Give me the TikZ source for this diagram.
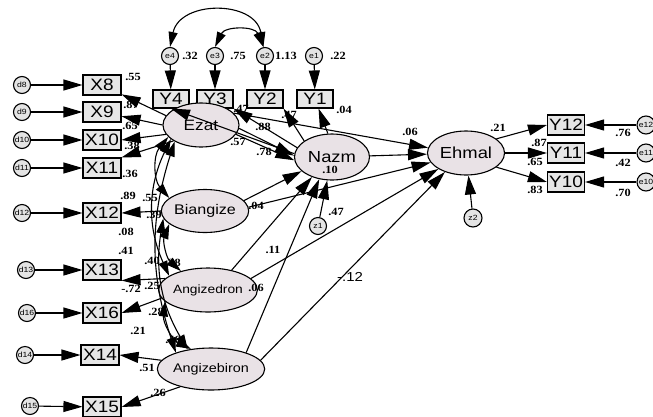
\documentclass[tikz,border=0pt]{standalone}
\usepackage{fontspec}
\usetikzlibrary{arrows.meta,shapes.geometric}
\newfontfamily\sansst[FakeStretch=1.15]{Liberation Sans}
\newfontfamily\serifst[FakeStretch=1.12]{Liberation Serif}
\definecolor{latfill}{HTML}{E9E2E6}
\definecolor{boxfill}{HTML}{E6E6E6}
\definecolor{errfill}{HTML}{E4E4E4}
\tikzset{
  obs/.style={draw, line width=1.1pt, fill=boxfill, minimum width=38pt, minimum height=20pt, inner sep=0pt, font=\sansst\fontsize{16.5}{16.5}\selectfont},
  obsy/.style={obs, minimum width=36pt, minimum height=18pt},
  lat/.style={draw, line width=1.1pt, ellipse, fill=latfill, inner sep=0pt},
  err/.style={draw, line width=1.1pt, circle, fill=errfill, minimum size=17pt, inner sep=0pt, font=\sansst\fontsize{7.5}{7.5}\selectfont},
  lbl/.style={inner sep=0pt, font=\serifst\bfseries\fontsize{11}{11}\selectfont},
  arr/.style={line width=1.1pt, -{Triangle[length=19pt,width=11pt]}},
  cov/.style={line width=1.1pt, {Triangle[length=15pt,width=9pt]}-{Triangle[length=15pt,width=9pt]}},
}
\begin{document}
\begin{tikzpicture}[x=1pt,y=-1pt]
\useasboundingbox (0,0) rectangle (653,416);
% observed X boxes
\node[obs] (X8)  at (102,85)  {X8};
\node[obs] (X9)  at (102,112) {X9};
\node[obs] (X10) at (102,140) {X10};
\node[obs] (X11) at (102,168) {X11};
\node[obs] (X12) at (102,213) {X12};
\node[obs] (X13) at (102,270) {X13};
\node[obs] (X16) at (102,313) {X16};
\node[obs] (X14) at (100,355) {X14};
\node[obs] (X15) at (102,407) {X15};
% d circles
\node[err] (d8)  at (22,85)  {d8};
\node[err] (d9)  at (22,112) {d9};
\node[err] (d10) at (22,140) {d10};
\node[err] (d11) at (22,168) {d11};
\node[err] (d12) at (22,213) {d12};
\node[err] (d13) at (26,270) {d13};
\node[err] (d16) at (27,313) {d16};
\node[err] (d14) at (25,355) {d14};
\node[err] (d15) at (30,406) {d15};
% Y boxes
\node[obsy] (Y4) at (171,99) {Y4};
\node[obsy] (Y3) at (215,99) {Y3};
\node[obsy] (Y2) at (265,99) {Y2};
\node[obsy] (Y1) at (315,99) {Y1};
\node[err] (e4) at (170,56) {e4};
\node[err] (e3) at (215,56) {e3};
\node[err] (e2) at (265,56) {e2};
\node[err] (e1) at (314,56) {e1};
% right boxes
\node[obs, minimum width=37pt] (Y12) at (566,125) {Y12};
\node[obs, minimum width=37pt] (Y11) at (566,153) {Y11};
\node[obs, minimum width=37pt] (Y10) at (566,182) {Y10};
\node[err, minimum size=18pt] (e12) at (646,125) {e12};
\node[err, minimum size=18pt] (e11) at (646,153) {e11};
\node[err, minimum size=18pt] (e10) at (646,182) {e10};
% latent
\node[lat, minimum width=76pt, minimum height=44pt, font=\sansst\fontsize{15}{15}\selectfont] (ezat) at (201,125) {\raisebox{-3pt}{Ezat}};
\node[lat, minimum width=75pt, minimum height=46pt, font=\sansst\fontsize{16}{16}\selectfont] (nazm) at (332,157) {Nazm};
\node[lat, minimum width=77pt, minimum height=44pt, font=\sansst\fontsize{16}{16}\selectfont] (ehmal) at (466,153) {Ehmal};
\node[lat, minimum width=72pt, minimum height=43pt, font=\sansst\fontsize{14}{14}\selectfont] (bian) at (205,211) {Biangize};
\node[lat, minimum width=77pt, minimum height=44pt, font=\sansst\fontsize{12}{12}\selectfont] (adron) at (208,290) {Angizedron};
\node[lat, minimum width=78pt, minimum height=42pt, font=\sansst\fontsize{12.5}{12.5}\selectfont] (abiron) at (211,369) {Angizebiron};
\node[err] (z1) at (318,226) {z1};
\node[err, minimum size=18pt] (z2) at (473,218) {z2};
% error arrows
\foreach \a/\b in {d8/X8,d9/X9,d10/X10,d11/X11,d12/X12,d13/X13,d16/X16,d14/X14,d15/X15,e4/Y4,e3/Y3,e2/Y2,e1/Y1,e12/Y12,e11/Y11,e10/Y10,z1/nazm,z2/ehmal}
  \draw[arr] (\a) -- (\b);
% error covariances
\draw[cov] (e4.north) .. controls (180,0) and (255,0) .. (e2.100);
\draw[cov] (e3.north) .. controls (225,26) and (255,26) .. (e2.100);
% loadings
\draw[arr] (ezat.165) -- (X8);
\draw[arr] (ezat.180) -- (X9);
\draw[arr] (ezat.195) -- (X10.east);
\draw[arr] (ezat.210) -- (X11.north east);
\draw[arr] (bian.west) -- (X12.east);
\draw[arr] (adron.165) -- (X13.south east);
\draw[arr] (adron.190) -- (X16.east);
\draw[arr] (abiron.170) -- (X14.east);
\draw[arr] (abiron.210) -- (X15.east);
\draw[arr] (nazm.100) -- (Y1);
\draw[arr] (nazm.150) -- (Y2.south east);
\draw[arr] (nazm.165) -- (Y3.south east);
\draw[arr] (nazm.175) -- (Y4.south);
\draw[arr] (ehmal.25) -- (Y12.west);
\draw[arr] (ehmal.0) -- (Y11.west);
\draw[arr] (ehmal.-25) -- (Y10.west);
% structural paths
\draw[arr] (ezat.-15) -- (nazm.185);
\draw[arr] (ezat.-5) -- (nazm.178);
\draw[arr] (ezat.20) -- (ehmal.172);
\draw[arr] (nazm) -- (ehmal);
\draw[arr] (bian.15) -- (nazm.205);
\draw[arr] (bian.5) -- (ehmal.195);
\draw[arr] (adron.40) -- (nazm.225);
\draw[arr] (adron.15) -- (ehmal.210);
\draw[arr] (abiron.25) -- (nazm.240);
\draw[arr] (abiron.10) -- (ehmal.222);
% latent covariances
\draw[cov] (ezat.200) to[bend right=40] (bian.160);
\draw[cov] (ezat.205) to[bend right=25] (adron.160);
\draw[cov] (ezat.212) to[bend right=18] (abiron.155);
\draw[cov] (bian.200) to[bend right=35] (adron.145);
\draw[cov] (bian.190) to[bend right=20] (abiron.140);
\draw[cov] (adron.195) to[bend right=35] (abiron.135);
% labels
\node[lbl] (l1) at (133,77) {.55};
\node[lbl] (l2) at (131,105) {.87};
\node[lbl] (l3) at (130,126) {.65};
\node[lbl] (l4) at (132,146) {.38};
\node[lbl] (l5) at (130,174) {.36};
\node[lbl] (l6) at (128,196) {.89};
\node[lbl] (l7) at (150,198) {.55};
\node[lbl] (l8) at (154,215) {.39};
\node[lbl] (l9) at (126,232) {.08};
\node[lbl] (l10) at (126,251) {.41};
\node[lbl] (l11) at (152,261) {.40};
\node[lbl] (l12) at (173,263) {.28};
\node[lbl] (l13) at (131,289) {-.72};
\node[lbl] (l14) at (152,286) {.25};
\node[lbl] (l15) at (156,312) {.28};
\node[lbl] (l16) at (138,331) {.21};
\node[lbl] (l17) at (173,340) {.46};
\node[lbl] (l18) at (147,368) {.51};
\node[lbl] (l19) at (158,393) {.26};
\node[lbl] (l20) at (190,56) {.32};
\node[lbl] (l21) at (238,56) {.75};
\node[lbl] (l22) at (286,56) {1.13};
\node[lbl] (l23) at (338,56) {.22};
\node[lbl] (l24) at (241,109) {.47};
\node[lbl] (l25) at (289,115) {.47};
\node[lbl] (l26) at (344,110) {.04};
\node[lbl] (l27) at (263,127) {.88};
\node[lbl] (l28) at (238,142) {.57};
\node[lbl] (l29) at (264,152) {.78};
\node[lbl] (l30) at (330,170) {.10};
\node[lbl] (l31) at (256,206) {.04};
\node[lbl] (l32) at (336,212) {.47};
\node[lbl] (l33) at (273,250) {.11};
\node[lbl] (l34) at (256,288) {.06};
\node[inner sep=0pt, font=\sansst\fontsize{13}{13}\selectfont] (l35) at (350,277) {-.12};
\node[lbl] (l36) at (410,132) {.06};
\node[lbl] (l37) at (498,128) {.21};
\node[lbl] (l38) at (539,143) {.87};
\node[lbl] (l39) at (535,162) {.65};
\node[lbl] (l40) at (535,190) {.83};
\node[lbl] (l41) at (623,133) {.76};
\node[lbl] (l42) at (623,163) {.42};
\node[lbl] (l43) at (623,193) {.70};
\end{tikzpicture}
\end{document}
